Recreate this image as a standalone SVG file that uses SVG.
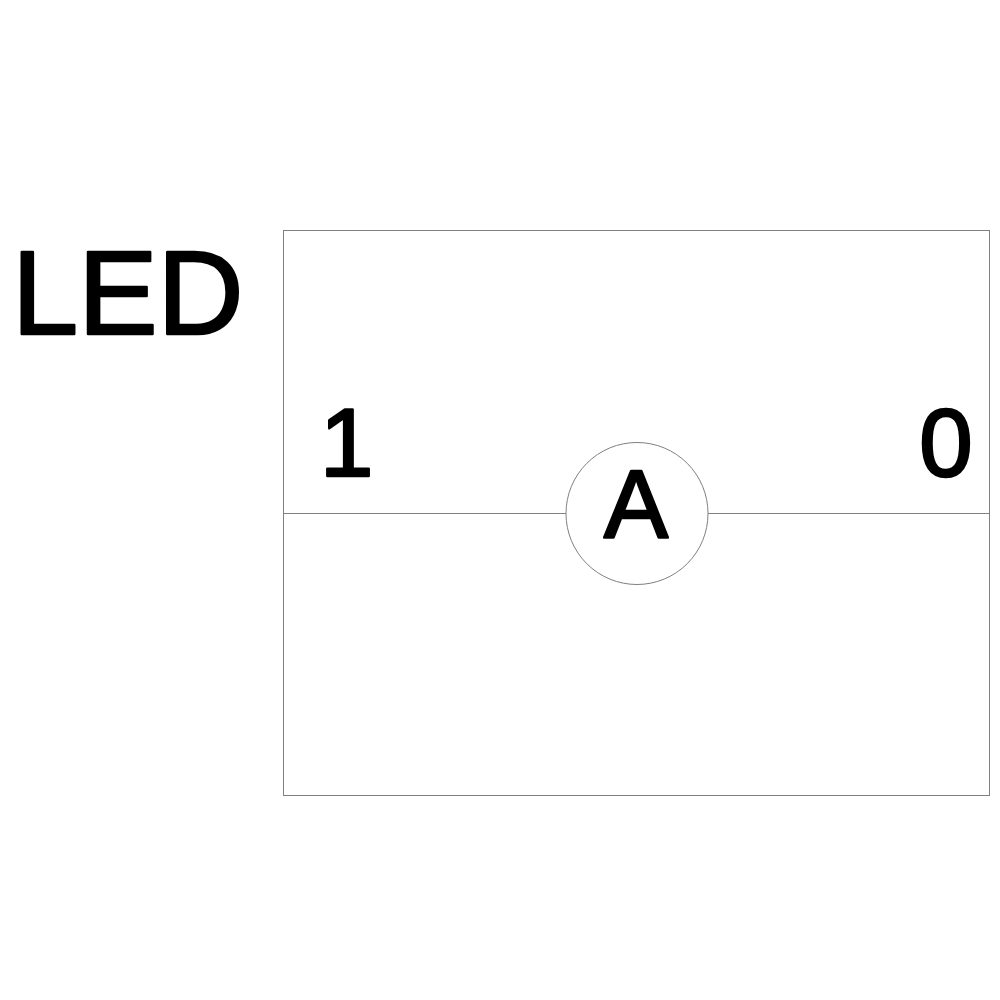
<svg xmlns="http://www.w3.org/2000/svg" width="1000" height="1000" viewBox="0 0 1000 1000">
<style>
.ln{fill:none;stroke:#808080;stroke-width:1}
.t{font-family:"Liberation Sans",Arial,sans-serif;fill:#000;stroke:#000;stroke-width:2.5;stroke-linejoin:round}
</style>
<rect width="1000" height="1000" fill="#fff"/>
<g id="frame"><rect class="ln" x="283.5" y="230.5" width="706" height="565"/></g>
<g id="connectors">
<line class="ln" x1="283.5" y1="513.5" x2="566" y2="513.5"/>
<line class="ln" x1="708" y1="513.5" x2="989.5" y2="513.5"/>
</g>
<g id="node-A"><circle class="ln" cx="637" cy="513.5" r="71"/><text class="t" x="636" y="537" font-size="96" text-anchor="middle">A</text></g>
<g id="label-LED"><text class="t" x="12" y="334" font-size="119">LED</text></g>
<g id="label-1"><text class="t" x="320" y="476" font-size="96">1</text></g>
<g id="label-0"><text class="t" x="946" y="476" font-size="96" text-anchor="middle">0</text></g>
</svg>
